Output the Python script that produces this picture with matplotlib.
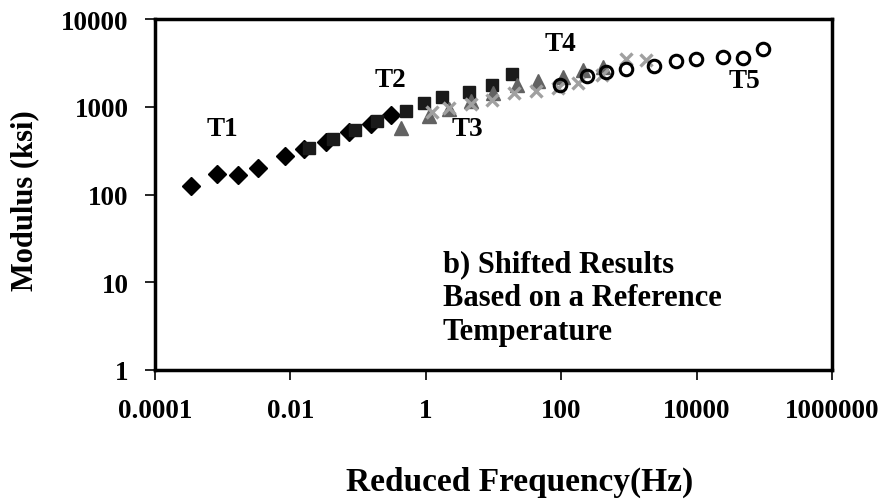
import matplotlib
matplotlib.use("Agg")
import matplotlib.pyplot as plt
from matplotlib.ticker import FixedLocator, FixedFormatter, NullLocator

# reduced frequency (Hz) and modulus (ksi) for each test temperature
t1_freq = [3.4e-4, 8.2e-4, 1.66e-3, 3.3e-3, 8.2e-3, 0.016, 0.033, 0.074, 0.155, 0.305]
t1_mod = [125, 171, 169, 200, 275, 330, 397, 515, 636, 805]

t2_freq = [0.019, 0.043, 0.090, 0.19, 0.51, 0.94, 1.72, 4.29, 9.35, 18.4]
t2_mod = [339, 429, 543, 688, 895, 1104, 1291, 1472, 1770, 2362]

t3_freq = [0.43, 1.11, 2.18, 4.59, 9.67, 21.8, 45.9, 107, 211, 415]
t3_mod = [573, 785, 943, 1163, 1434, 1770, 1965, 2183, 2624, 2838]

t4_freq = [1.22, 2.18, 4.59, 9.35, 19.7, 42.9, 90.3, 178, 401, 904, 1778]
t4_mod = [871, 968, 1075, 1194, 1434, 1512, 1636, 1865, 2300, 3500, 3410]

t5_freq = [96.7, 241, 459, 904, 2333, 4910, 9660, 24100, 47400, 93500]
t5_mod = [1770, 2240, 2489, 2692, 2913, 3321, 3500, 3690, 3640, 4550]

x_ticks = [1e-4, 1e-2, 1, 1e2, 1e4, 1e6]
x_labels = ["0.0001", "0.01", "1", "100", "10000", "1000000"]
y_ticks = [1, 10, 100, 1000, 10000]
y_labels = ["1", "10", "100", "1000", "10000"]

plt.rcParams["font.family"] = ["Liberation Serif", "DejaVu Serif"]
plt.rcParams["font.weight"] = "bold"

fig = plt.figure(figsize=(8.91, 5.02), dpi=100)
ax = fig.add_axes([0.174, 0.261, 0.760, 0.699])

ax.plot(t1_freq, t1_mod, ls="none", marker="D", ms=9.5, color="black")
ax.plot(t2_freq, t2_mod, ls="none", marker="s", ms=8.5, color="#1a1a1a")
ax.plot(t3_freq, t3_mod, ls="none", marker="^", ms=9.5, color="#626262")
ax.plot(t4_freq, t4_mod, ls="none", marker="x", ms=9, mew=2.4, color="#a0a0a0")
ax.plot(t5_freq, t5_mod, ls="none", marker="o", ms=9, mew=2.2, mfc="none", color="black")

ax.set_xscale("log")
ax.set_yscale("log")
ax.set_xlim(1e-4, 1e6)
ax.set_ylim(1, 1e4)
ax.xaxis.set_major_locator(FixedLocator(x_ticks))
ax.xaxis.set_major_formatter(FixedFormatter(x_labels))
ax.yaxis.set_major_locator(FixedLocator(y_ticks))
ax.yaxis.set_major_formatter(FixedFormatter(y_labels))
ax.xaxis.set_minor_locator(NullLocator())
ax.yaxis.set_minor_locator(NullLocator())
ax.tick_params(axis="both", direction="out", length=7, width=1.2,
               labelsize=19.5, color="black")
ax.tick_params(axis="x", pad=13)
ax.tick_params(axis="y", pad=12)
for s in ax.spines.values():
    s.set_linewidth(2.5)

fig.text(0.028, 0.60, "Modulus (ksi)", fontsize=22, fontweight="bold",
         rotation=90, ha="center", va="center")
fig.text(0.583, 0.04, "Reduced Frequency(Hz)", fontsize=24, fontweight="bold",
         ha="center", va="center")

# temperature labels
for lbl, x, y in [("T1", 0.099, 0.687), ("T2", 0.347, 0.829), ("T3", 0.461, 0.687),
                  ("T4", 0.598, 0.929), ("T5", 0.871, 0.826)]:
    ax.text(x, y, lbl, transform=ax.transAxes, fontsize=19.5, fontweight="bold",
            ha="center", va="center")

ax.text(0.425, 0.345, "b) Shifted Results\nBased on a Reference\nTemperature",
        transform=ax.transAxes, fontsize=22, fontweight="bold",
        ha="left", va="top", linespacing=1.22)

fig.savefig("out.png", dpi=100)
